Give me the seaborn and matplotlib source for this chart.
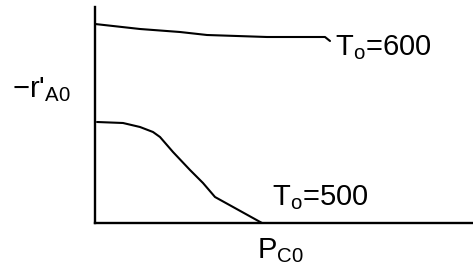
import matplotlib
matplotlib.use("Agg")
import matplotlib.pyplot as plt
import seaborn as sns
import pandas as pd

# curve points (arbitrary units, x = P_C0, y = -r'_A0)
upper_x = [0, 45, 85, 112, 172, 230, 235]
upper_y = [199, 194, 191, 188, 186, 186, 182]
lower_x = [2, 28, 45, 58, 65, 78, 95, 108, 120, 167]
lower_y = [101, 100, 96, 91, 86, 71, 53, 40, 26, 0]

curve_labels = ["T$_\\mathrm{o}$=600", "T$_\\mathrm{o}$=500"]
x_label = "P$_\\mathrm{C0}$"
y_label = "\u2212r$'_\\mathrm{A0}$"

sns.set_style("white")
plt.rcParams['font.family'] = ['Liberation Sans', 'DejaVu Sans']
plt.rcParams['mathtext.fontset'] = 'custom'
plt.rcParams['mathtext.rm'] = 'Liberation Sans'
plt.rcParams['mathtext.it'] = 'Liberation Sans:italic'
plt.rcParams['text.color'] = 'black'

df = pd.concat([
    pd.DataFrame({"x": upper_x, "y": upper_y, "T": curve_labels[0]}),
    pd.DataFrame({"x": lower_x, "y": lower_y, "T": curve_labels[1]}),
])

fig = plt.figure(figsize=(4.73, 2.67), dpi=100)
ax = fig.add_axes([95 / 473, 44 / 267, 378 / 473, 216 / 267])

sns.lineplot(data=df, x="x", y="y", units="T", estimator=None, sort=False,
             color="black", linewidth=1.5, ax=ax, legend=False)

ax.set_xlim(0, 378)
ax.set_ylim(0, 216)
ax.set_xticks([])
ax.set_yticks([])
ax.set_xlabel("")
ax.set_ylabel("")
for s in ["top", "right"]:
    ax.spines[s].set_visible(False)
for s in ["left", "bottom"]:
    ax.spines[s].set_color("black")
    ax.spines[s].set_linewidth(1.7)

fs = 21
ax.text(240, 168, curve_labels[0], fontsize=fs, va="baseline", clip_on=False)
ax.text(177, 18, curve_labels[1], fontsize=fs, va="baseline", clip_on=False)
ax.text(162, -35, x_label, fontsize=fs, va="baseline", clip_on=False)
ax.text(-83, 126, y_label, fontsize=fs, va="baseline", clip_on=False)

fig.savefig("out.png", dpi=100)
